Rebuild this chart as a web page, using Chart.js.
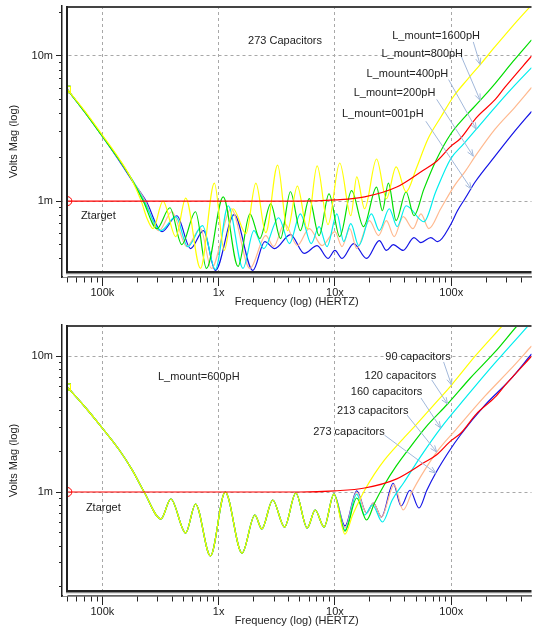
<!DOCTYPE html>
<html><head><meta charset="utf-8">
<script src="https://cdn.jsdelivr.net/npm/chart.js@4/dist/chart.umd.min.js"></script>
<style>
html,body{margin:0;padding:0;background:#fff;}
#wrap{position:relative;width:537px;height:633px;overflow:hidden;background:#fff;}
canvas{position:absolute;left:0;}
#c1{top:0;} #c2{top:312px;}
</style></head><body>
<div id="wrap"><canvas id="c1" width="537" height="312"></canvas><canvas id="c2" width="537" height="321"></canvas></div>
<script>
// ---------- axis ticks ----------
const xMajorTicks = [1e5, 1e6, 1e7, 1e8];
const xMajorLabels = ['100k', '1x', '10x', '100x'];
const xMinorTicks = [5e4,6e4,7e4,8e4,9e4, 2e5,3e5,4e5,5e5,6e5,7e5,8e5,9e5, 2e6,3e6,4e6,5e6,6e6,7e6,8e6,9e6, 2e7,3e7,4e7,5e7,6e7,7e7,8e7,9e7, 2e8,3e8,4e8];
const yMajorTicks = [1, 10];
const yMajorLabels = ['1m', '10m'];
const yMinorTicksTop = [0.4,0.5,0.6,0.7,0.8,0.9, 2,3,4,5,6,7,8,9, 20];
const yMinorTicksBottom = [0.2,0.3,0.4,0.5,0.6,0.7,0.8,0.9, 2,3,4,5,6,7,8,9];

// ---------- Ztarget (both panels), Hz / mV ----------
const ztargetF = [5e4, 1e6, 5e6, 1.0e7, 1.8e7, 3.4e7, 5.8e7, 7.5e7, 1.0e8, 1.2e8, 1.64e8, 2.38e8, 2.9e8, 4.91e8];
const ztargetV = [1.0, 1.0, 1.0, 1.02, 1.07, 1.25, 1.64, 1.88, 2.4, 2.7, 3.75, 5.0, 6.1, 10.0];

// ---------- top panel: 273 capacitors, L_mount sweep ----------
const top1600F = [5e4,7.1e4,1e5,1.4e5,1.78e5,2.16e5,2.43e5,2.73e5,3.32e5,4.28e5,5.21e5,6.98e5,9.19e5,1.117e6,1.332e6,1.718e6,2.09e6,2.542e6,3.215e6,3.908e6,4.753e6,5.781e6,7.031e6,8.72e6,1.10e7,1.37e7,1.54e7,1.80e7,2.28e7,2.77e7,3.36e7,4.09e7,4.98e7,6.29e7,8.12e7,1.046e8,1.376e8,1.775e8,2.38e8,3.386e8,4.91e8];
const top1600V = [5.88,4.15,2.85,1.95,1.42,1.00,0.756,0.646,1.00,0.569,1.05,0.344,1.33,0.457,0.886,0.597,1.33,0.606,1.77,0.626,1.27,0.646,1.75,0.688,1.83,0.793,1.47,0.886,1.95,1.04,1.72,1.16,1.66,2.67,3.78,5.26,6.88,8.72,11.58,16.13,22.45];
const top800F = [5e4,7.1e4,1e5,1.4e5,1.78e5,2.25e5,2.95e5,3.81e5,4.82e5,6.33e5,7.86e5,1.095e6,1.469e6,1.858e6,2.26e6,2.803e6,3.408e6,4.145e6,5.042e6,6.012e6,7.311e6,8.89e6,1.10e7,1.39e7,1.76e7,2.28e7,2.56e7,2.88e7,3.36e7,4.09e7,4.78e7,5.82e7,7.36e7,9.87e7,1.323e8,1.775e8,2.38e8,3.386e8,4.91e8];
const top800V = [5.88,4.09,2.80,1.92,1.42,1.00,0.646,0.900,0.502,0.845,0.344,1.07,0.355,0.818,0.552,0.958,0.552,1.16,0.626,1.04,0.579,1.12,0.569,1.18,0.667,1.25,0.858,1.33,0.733,1.16,0.793,1.21,1.89,2.89,3.84,4.94,6.46,9.14,12.93];
const top400F = [5e4,7.1e4,1e5,1.4e5,1.81e5,2.29e5,3.19e5,4.28e5,5.42e5,7.26e5,9.37e5,1.208e6,1.62e6,2.01e6,2.444e6,3.279e6,4.064e6,5.042e6,6.25e6,7.311e6,8.55e6,1.04e7,1.19e7,1.37e7,1.60e7,2.06e7,2.41e7,2.93e7,3.43e7,4.09e7,5.82e7,7.36e7,9.87e7,1.273e8,1.642e8,2.38e8,3.386e8,4.91e8];
const top400V = [5.88,4.09,2.80,1.92,1.40,1.00,0.626,0.781,0.486,0.677,0.338,0.929,0.344,0.626,0.471,0.768,0.510,0.818,0.510,0.667,0.486,0.818,0.526,0.699,0.494,0.818,0.626,0.886,0.667,0.929,0.721,1.16,1.95,2.47,3.13,4.43,6.07,8.31];
const top200F = [5e4,7.1e4,1e5,1.4e5,1.81e5,2.34e5,3.07e5,3.96e5,5.31e5,6.98e5,8.66e5,1.281e6,1.858e6,2.542e6,2.973e6,3.686e6,4.753e6,6.012e6,7.752e6,1.00e7,1.15e7,1.34e7,1.54e7,1.98e7,2.37e7,2.77e7,3.23e7,3.86e7,4.69e7,5.49e7,6.42e7,8.12e7,1.046e8,1.323e8,1.61e8,2.38e8,3.521e8,4.91e8];
const top200V = [5.88,4.09,2.80,1.92,1.40,1.00,0.626,0.845,0.486,0.646,0.344,0.886,0.344,0.579,0.486,0.699,0.494,0.646,0.494,0.616,0.486,0.646,0.471,0.733,0.579,0.733,0.569,0.781,0.646,0.818,0.646,0.886,1.25,1.61,2.04,3.13,4.43,6.07];
const top001F = [5e4,7.1e4,1e5,1.4e5,1.81e5,2.38e5,3.26e5,4.37e5,5.74e5,7.41e5,9.37e5,1.359e6,1.97e6,2.493e6,3.031e6,4.145e6,5.452e6,7.031e6,8.72e6,1.00e7,1.15e7,1.45e7,1.87e7,2.41e7,2.77e7,3.17e7,3.86e7,4.78e7,5.49e7,6.67e7,7.65e7,9.87e7,1.131e8,1.323e8,1.61e8,2.38e8,3.521e8,4.91e8];
const top001V = [5.88,4.09,2.80,1.89,1.38,1.00,0.616,0.793,0.471,0.626,0.333,0.806,0.333,0.526,0.471,0.588,0.436,0.494,0.403,0.457,0.403,0.510,0.403,0.535,0.457,0.502,0.457,0.561,0.518,0.561,0.526,0.688,0.858,1.05,1.36,2.04,3.03,4.15];

// ---------- bottom panel: L_mount=600pH, capacitor count sweep ----------
const botCommonF = [5e4,7.1e4,1e5,1.4e5,1.81e5,2.29e5,3.19e5,3.88e5,5.21e5,6.33e5,8.50e5,1.139e6,1.589e6,2.049e6,2.35e6,2.915e6,3.686e6,4.61e6,5.781e6,6.761e6,8.062e6,9.80e6];
const botCommonV = [5.94,4.23,2.96,2.04,1.45,1.00,0.633,0.888,0.499,0.816,0.338,1.00,0.355,0.677,0.534,0.873,0.552,0.983,0.543,0.737,0.552,0.966];
const bot90F = [1.22e7,1.42e7,1.60e7,1.80e7,2.19e7,2.66e7,3.71e7,4.98e7,6.94e7,1.006e8,1.61e8,2.784e8,4.91e8];
const bot90V = [0.490,0.677,0.844,1.03,1.36,1.72,2.38,3.12,4.30,6.14,10.05,17.0,29.8];
const bot120F = [1.22e7,1.54e7,1.87e7,2.19e7,2.66e7,3.36e7,4.51e7,6.05e7,9.30e7,1.46e8,2.38e8,3.734e8,4.91e8];
const bot120V = [0.516,0.903,0.622,0.830,1.13,1.55,2.18,3.01,4.45,6.92,10.76,17.0,21.9];
const bot160F = [1.22e7,1.54e7,1.80e7,2.10e7,2.56e7,3.11e7,3.93e7,5.49e7,8.12e7,1.323e8,2.38e8,4.91e8];
const bot160V = [0.525,0.966,0.677,0.802,0.601,0.873,1.18,1.84,2.96,4.93,8.93,17.9];
const bot213F = [1.22e7,1.54e7,1.87e7,2.14e7,2.51e7,3.23e7,3.86e7,4.60e7,5.49e7,7.50e7,1.088e8,1.957e8,3.194e8,4.91e8];
const bot213V = [0.543,1.00,0.700,0.830,0.654,1.13,0.737,1.00,1.31,1.97,2.86,5.10,7.93,11.9];
const bot273F = [1.22e7,1.54e7,1.87e7,2.14e7,2.51e7,3.17e7,3.71e7,4.42e7,5.28e7,6.17e7,7.36e7,9.49e7,1.20e8,1.957e8,3.194e8,4.91e8];
const bot273V = [0.562,1.02,0.700,0.830,0.654,1.16,0.789,1.03,0.762,1.03,1.38,1.97,2.63,4.38,6.69,10.4];

// ---------- annotations (data coordinates) ----------
const topLabelText = ['273 Capacitors','L_mount=1600pH','L_mount=800pH','L_mount=400pH','L_mount=200pH','L_mount=001pH','Ztarget'];
const topLabelF = [1.79e6, 3.11e7, 2.51e7, 1.87e7, 1.45e7, 1.15e7, 6.54e4];
const topLabelV = [12.7, 13.77, 10.37, 7.56, 5.52, 3.96, 0.793];
const topArrowFromF = [1.547e8, 1.224e8, 9.49e7, 7.5e7, 6.05e7];
const topArrowFromV = [12.5, 9.89, 6.88, 5.02, 3.55];
const topArrowToF = [1.775e8, 1.775e8, 1.642e8, 1.547e8, 1.488e8];
const topArrowToV = [8.72, 4.94, 3.13, 2.04, 1.21];

const botLabelText = ['L_mount=600pH','Ztarget','90 capacitors','120 capacitors','160 capacitors','213 capacitors','273 capacitors'];
const botLabelF = [3.01e5, 7.22e4, 2.71e7, 1.80e7, 1.37e7, 1.04e7, 6.50e6];
const botLabelV = [7.04, 0.762, 9.88, 7.16, 5.46, 3.95, 2.77];
const botArrowFromF = [8.6e7, 6.8e7, 5.49e7, 4.17e7, 2.66e7];
const botArrowFromV = [9.08, 6.69, 4.93, 3.69, 2.63];
const botArrowToF = [1.006e8, 9.3e7, 8.12e7, 7.5e7, 7.36e7];
const botArrowToV = [6.14, 4.45, 2.96, 1.97, 1.38];

// ---------- styling ----------
const FONT = '"Liberation Sans", Arial, Helvetica, sans-serif';
const C = { yellow:'#ffff00', green:'#00dd00', cyan:'#00eeee', peach:'#ffb98f', blue:'#1414e6', red:'#ff0000', arrow:'#a2b8da', text:'#222' };
Chart.defaults.font.family = FONT;

const isIn = (arr, v) => v != null && arr.some(m => Math.abs(m - v) / m < 1e-6);
const tv = c => (c && c.tick) ? c.tick.value : null;

function ds(label, F, V, color, marker) {
  return {
    label, data: F.map((f, i) => ({x: f, y: V[i]})),
    borderColor: color, backgroundColor: color, borderWidth: 1.2, fill: false,
    cubicInterpolationMode: 'monotone',
    pointStyle: marker, pointRadius: c => c.dataIndex === 0 ? 4.5 : 0, pointHoverRadius: 0,
    pointBorderColor: color, pointBackgroundColor: 'rgba(0,0,0,0)', pointBorderWidth: 1,
    clip: {left: -5, top: 0, right: 0, bottom: -5}
  };
}

function xScale(axisH, titlePad) {
  return {
    type: 'logarithmic', min: 45000, max: 4.9e8,
    afterBuildTicks: s => { s.ticks = [...xMinorTicks, ...xMajorTicks].sort((a,b)=>a-b).map(v => ({value: v})); },
    afterFit: s => { s.height = axisH; s.paddingLeft = 0; s.paddingRight = 0; },
    ticks: { autoSkip: false, maxRotation: 0, minRotation: 0, padding: 0, color: C.text, font: {size: 11},
      callback: v => { const i = xMajorTicks.findIndex(m => Math.abs(m - v)/m < 1e-6); return i >= 0 ? xMajorLabels[i] : ''; } },
    grid: { color: c => isIn(xMajorTicks, tv(c)) ? '#a8a8a8' : 'rgba(0,0,0,0)', lineWidth: 1,
      tickLength: 9, tickWidth: 1, tickColor: '#222',
      tickBorderDash: c => isIn(xMajorTicks, tv(c)) ? [] : [5, 30], tickBorderDashOffset: 0 },
    border: { display: true, color: '#222', width: 1.5, dash: [3, 3] },
    title: { display: true, text: 'Frequency (log) (HERTZ)', color: C.text, font: {size: 11}, padding: {top: 0, bottom: titlePad} }
  };
}
function yScale(min, max, minors) {
  return {
    type: 'logarithmic', min, max,
    afterBuildTicks: s => { s.ticks = [...minors, ...yMajorTicks].sort((a,b)=>a-b).map(v => ({value: v})); },
    afterFit: s => { s.width = 62; s.paddingTop = 0; s.paddingBottom = 0; },
    ticks: { autoSkip: false, padding: 3, color: C.text, font: {size: 11},
      callback: v => { const i = yMajorTicks.findIndex(m => Math.abs(m - v)/m < 1e-6); return i >= 0 ? yMajorLabels[i] : ''; } },
    grid: { color: c => isIn(yMajorTicks, tv(c)) ? '#a8a8a8' : 'rgba(0,0,0,0)', lineWidth: 1,
      tickLength: 6, tickWidth: 1, tickColor: '#222',
      tickBorderDash: c => isIn(yMajorTicks, tv(c)) ? [] : [3, 3],
      tickBorderDashOffset: c => isIn(yMajorTicks, tv(c)) ? 0 : 3 },
    border: { display: true, color: '#222', width: 1.5, dash: [3, 3] },
    title: { display: true, text: 'Volts Mag (log)', color: C.text, font: {size: 11}, padding: {top: 7, bottom: 0} }
  };
}

function framePlugin(lbl, arr) {
  return {
    id: 'frame',
    beforeDatasetsDraw(chart) {
      const {ctx, chartArea: a} = chart;
      ctx.save();
      ctx.fillStyle = '#fff';
      ctx.fillRect(a.left + 1, a.top - 1, 4.5, a.bottom - a.top + 1);
      ctx.fillRect(a.left + 1, a.bottom - 4.5, a.right - a.left, 3.8);
      ctx.restore();
    },
    afterDatasetsDraw(chart) {
      const {ctx, chartArea: a, scales} = chart;
      const bx = a.left + 5, bb = a.bottom - 5;
      ctx.save();
      ctx.lineCap = 'butt';
      ctx.strokeStyle = '#444'; ctx.lineWidth = 2;
      ctx.beginPath(); ctx.moveTo(bx, a.top + 1); ctx.lineTo(a.right, a.top + 1); ctx.stroke();
      ctx.strokeStyle = '#222'; ctx.lineWidth = 2;
      ctx.beginPath(); ctx.moveTo(bx, a.top); ctx.lineTo(bx, bb + 1); ctx.stroke();
      ctx.beginPath(); ctx.moveTo(bx - 1, bb); ctx.lineTo(a.right, bb); ctx.stroke();
      ctx.strokeStyle = '#8a8a8a'; ctx.lineWidth = 1.2;
      ctx.beginPath(); ctx.moveTo(bx - 1, bb + 1.6); ctx.lineTo(a.right, bb + 1.6); ctx.stroke();
      // arrows
      ctx.strokeStyle = C.arrow; ctx.lineWidth = 1;
      for (let i = 0; i < arr.fromF.length; i++) {
        const x1 = scales.x.getPixelForValue(arr.fromF[i]), y1 = scales.y.getPixelForValue(arr.fromV[i]);
        const x2 = scales.x.getPixelForValue(arr.toF[i]), y2 = scales.y.getPixelForValue(arr.toV[i]);
        ctx.beginPath(); ctx.moveTo(x1, y1); ctx.lineTo(x2, y2); ctx.stroke();
        const ang = Math.atan2(y2 - y1, x2 - x1), L = 7, w = 0.38;
        ctx.beginPath();
        ctx.moveTo(x2 - L * Math.cos(ang - w), y2 - L * Math.sin(ang - w));
        ctx.lineTo(x2, y2);
        ctx.lineTo(x2 - L * Math.cos(ang + w), y2 - L * Math.sin(ang + w));
        ctx.stroke();
      }
      // labels
      ctx.fillStyle = C.text; ctx.font = '11px ' + FONT; ctx.textAlign = 'left'; ctx.textBaseline = 'middle';
      for (let i = 0; i < lbl.text.length; i++) {
        ctx.fillText(lbl.text[i], scales.x.getPixelForValue(lbl.F[i]), scales.y.getPixelForValue(lbl.V[i]));
      }
      ctx.restore();
    }
  };
}

function makeChart(id, datasets, yMin, yMax, minors, padTop, axisH, titlePad, lbl, arr) {
  return new Chart(document.getElementById(id), {
    type: 'line',
    data: { datasets },
    options: {
      responsive: false, animation: false, devicePixelRatio: 1, events: [],
      layout: { padding: {top: padTop, left: 0, right: 0, bottom: 0} },
      plugins: { legend: {display: false}, tooltip: {enabled: false} },
      scales: { x: xScale(axisH, titlePad), y: yScale(yMin, yMax, minors) }
    },
    plugins: [framePlugin(lbl, arr)]
  });
}

makeChart('c1', [
  ds('Ztarget', ztargetF, ztargetV, C.red, 'circle'),
  ds('L_mount=1600pH', top1600F, top1600V, C.yellow, 'rect'),
  ds('L_mount=800pH', top800F, top800V, C.green, 'rect'),
  ds('L_mount=400pH', top400F, top400V, C.cyan, 'rect'),
  ds('L_mount=200pH', top200F, top200V, C.peach, 'rect'),
  ds('L_mount=001pH', top001F, top001V, C.blue, 'rect')
], 0.308, 22.1, yMinorTicksTop, 6, 35, 3,
  {text: topLabelText, F: topLabelF, V: topLabelV},
  {fromF: topArrowFromF, fromV: topArrowFromV, toF: topArrowToF, toV: topArrowToV});

makeChart('c2', [
  ds('Ztarget', ztargetF, ztargetV, C.red, 'circle'),
  ds('90 capacitors', botCommonF.concat(bot90F), botCommonV.concat(bot90V), C.yellow, 'rect'),
  ds('120 capacitors', botCommonF.concat(bot120F), botCommonV.concat(bot120V), C.green, 'rect'),
  ds('160 capacitors', botCommonF.concat(bot160F), botCommonV.concat(bot160V), C.cyan, 'rect'),
  ds('213 capacitors', botCommonF.concat(bot213F), botCommonV.concat(bot213V), C.peach, 'rect'),
  ds('273 capacitors', botCommonF.concat(bot273F), botCommonV.concat(bot273V), C.blue, 'rect')
], 0.1713, 17.0, yMinorTicksBottom, 13, 37, 5,
  {text: botLabelText, F: botLabelF, V: botLabelV},
  {fromF: botArrowFromF, fromV: botArrowFromV, toF: botArrowToF, toV: botArrowToV});
</script>
</body></html>
